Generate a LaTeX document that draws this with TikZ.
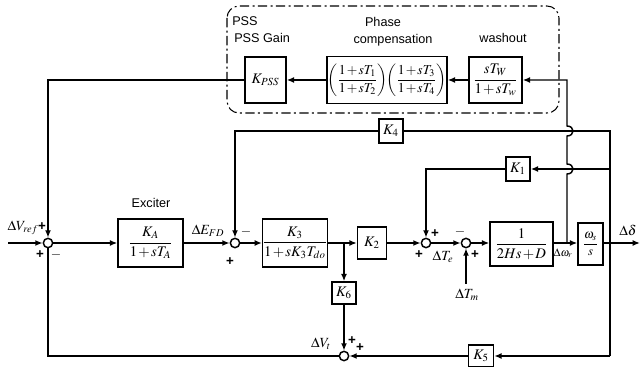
\documentclass[tikz,border=0pt]{standalone}
\usepackage{amsmath}
\usepackage{mathptmx}
\usepackage{fontspec}
\setmainfont{Liberation Sans}
\usetikzlibrary{arrows.meta,calc}
\newcommand\tightmath{\medmuskip=1.5mu\relax}
\begin{document}
\begin{tikzpicture}[x=0.75pt,y=-0.75pt,
  wire/.style={line width=1.1pt},
  arr/.style={wire,-{Latex[length=5.5pt,width=4.5pt]}},
  blk/.style={draw,line width=1.1pt,inner sep=0pt,font=\fontsize{11}{13}\selectfont\tightmath},
  sumc/.style={circle,draw,line width=1.1pt,inner sep=0pt,minimum size=7pt},
  lbl/.style={inner sep=0pt,font=\fontsize{9.5}{11}\selectfont},
  mlbl/.style={inner sep=0pt,font=\fontsize{10.5}{12}\selectfont},
  sgn/.style={inner sep=0pt,font=\fontsize{10}{11}\selectfont\bfseries}]
\useasboundingbox (0,0) rectangle (643,367);

% PSS frame
\draw[line width=0.8pt,rounded corners=9pt,dash pattern=on 7pt off 2.5pt on 1.5pt off 2.5pt] (227,6) rectangle (559,113);
\node[lbl,anchor=west] (tpss) at (232,21) {PSS};
\node[lbl,anchor=west] (tgain) at (234,38) {PSS Gain};
\node[lbl] (tph) at (383,22) {Phase};
\node[lbl] (tcomp) at (393,40) {compensation};
\node[lbl] (twash) at (503,38) {washout};
\node[lbl] (texc) at (151,203) {Exciter};

% blocks
\node[blk,minimum width=30.75pt,minimum height=34.5pt] (kpss) at (265.5,80) {$K_{PSS}$};
\node[blk,minimum width=90pt,minimum height=35.25pt,font=\fontsize{10.2}{12}\selectfont\tightmath] (phase) at (387,80)
  {$\left(\dfrac{1+sT_1}{1+sT_2}\right)\!\!\left(\dfrac{1+sT_3}{1+sT_4}\right)$};
\node[blk,minimum width=39.75pt,minimum height=34.5pt] (wash) at (495.5,80) {$\dfrac{sT_W}{1+sT_w}$};
\node[blk,minimum width=48.75pt,minimum height=36pt] (exc) at (150.5,243) {$\dfrac{K_A}{1+sT_A}$};
\node[blk,minimum width=47.25pt,minimum height=36pt] (k3) at (295,243) {$\dfrac{K_3}{1+sK_3T_{do}}$};
\node[blk,minimum width=21.75pt,minimum height=24pt] (k2) at (372,243) {$K_2$};
\node[blk,minimum width=18pt,minimum height=16.5pt] (k6) at (344,293) {$K_6$};
\node[blk,minimum width=18pt,minimum height=18pt] (k4) at (391,131) {$K_4$};
\node[blk,minimum width=18pt,minimum height=18pt] (k1) at (518,169) {$K_1$};
\node[blk,minimum width=18.75pt,minimum height=16.5pt] (k5) at (481,356) {$K_5$};
\node[blk,minimum width=47.25pt,minimum height=33pt] (inert) at (521.5,244) {$\dfrac{1}{2Hs+D}$};
\node[blk,minimum width=18.75pt,minimum height=31.5pt,font=\fontsize{9.5}{11}\selectfont] (integ) at (590.5,244) {$\dfrac{\omega_s}{s}$};

% summing junctions
\node[sumc] (s1) at (48,243) {};
\node[sumc] (s2) at (235,243) {};
\node[sumc] (s3) at (426,243) {};
\node[sumc] (s5) at (466,243) {};
\node[sumc] (s4) at (344,356) {};

% coordinates
\coordinate (in) at (8,243);
\coordinate (out) at (640,243);
\coordinate (tk3) at (344,243);
\coordinate (tw) at (567,243);
\coordinate (td) at (610,243);
\coordinate (tdk4) at (610,131);
\coordinate (tdk1) at (610,169);
\coordinate (tdk5) at (610,356);
\coordinate (k4l) at (235,131);
\coordinate (k1l) at (426,169);
\coordinate (fbl) at (48,356);
\coordinate (pssl) at (48,80);
\coordinate (wtop) at (567,80);
\coordinate (tm) at (466,284);

% forward path
\draw[arr] (in) -- (s1);
\draw[arr] (s1) -- (exc);
\draw[arr] (exc) -- (s2);
\draw[arr] (s2) -- (k3);
\draw[arr] (k3.east |- s2) -- (k2.west |- s2);
\draw[arr] (k2.east |- s3) -- (s3);
\draw[arr] (s3) -- (s5);
\draw[arr] (s5) -- (inert.west |- s5);
\draw[arr] (inert.east |- s5) -- (integ.west |- s5);
\draw[arr] (integ.east |- s5) -- (out);

% K6 branch
\draw[arr] (tk3) -- (k6);
\draw[arr] (k6) -- (s4);

% K4 loop
\draw[wire] (td) -- (tdk4) -- (k4);
\draw[arr] (k4) -- (k4l) -- (s2);

% K1 loop
\draw[arr] (tdk1) -- (k1);
\draw[arr] (k1) -- (k1l) -- (s3);

% K5 loop
\draw[wire] (td) -- (tdk5);
\draw[arr] (tdk5) -- (k5);
\draw[arr] (k5) -- (s4);
\draw[wire] (s4) -- (fbl) -- (s1);

% PSS path with hops
\draw[arr] (tw) -- (567,174) .. controls (575,174) and (575,164) .. (567,164)
  -- (567,136) .. controls (575,136) and (575,126) .. (567,126) -- (wtop) -- (wash);
\draw[arr] (wash) -- (phase);
\draw[arr] (phase) -- (kpss);
\draw[arr] (kpss) -- (pssl) -- (s1);

% Tm input
\draw[arr] (tm) -- (s5);

% signal labels
\node[mlbl] (lvref) at (23,228) {$\Delta V_{ref}$};
\node[mlbl] (lefd) at (208,231) {$\Delta E_{FD}$};
\node[mlbl] (lte) at (443,257) {$\Delta T_e$};
\node[mlbl] (ltm) at (467,295) {$\Delta T_m$};
\node[mlbl,font=\fontsize{8.5}{9}\selectfont] (lw) at (563,253) {$\Delta\omega_r$};
\node[mlbl] (ld) at (628,230) {$\Delta\delta$};
\node[mlbl] (lvt) at (321,344) {$\Delta V_t$};

% signs
\node[sgn] at (42,227) {+};
\node[sgn] at (40,255) {+};
\node[sgn] at (56,255) {$-$};
\node[sgn] at (246,232) {$-$};
\node[sgn] at (230,262) {+};
\node[sgn] at (435,234) {+};
\node[sgn] at (419,255) {+};
\node[sgn] at (460,232) {$-$};
\node[sgn] at (475,255) {+};
\node[sgn] at (352,341) {+};
\node[sgn] at (360,348) {+};
\end{tikzpicture}
\end{document}
